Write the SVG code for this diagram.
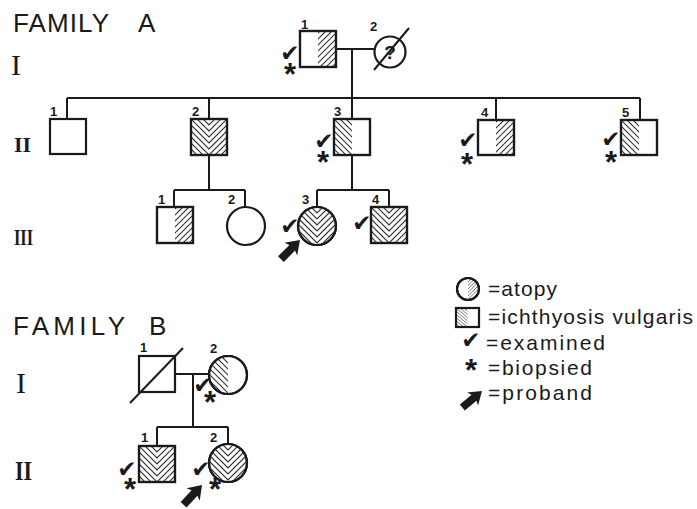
<svg xmlns="http://www.w3.org/2000/svg" xmlns:xlink="http://www.w3.org/1999/xlink" width="697" height="509" viewBox="0 0 697 509">
<style>
.sym{fill:#fff;stroke:#1a1a1a;stroke-width:2.2}
.ln{stroke:#1a1a1a;stroke-width:2;fill:none}
.h{stroke:#333;stroke-width:1.1;fill:none}
.lab{font-family:"Liberation Sans",Arial,sans-serif;font-weight:bold;font-size:13px;fill:#1a1a1a}
.chk{font-family:"DejaVu Sans",sans-serif;font-size:23px;fill:#1a1a1a;text-anchor:middle}
.ast{font-family:"Liberation Sans",Arial,sans-serif;font-weight:bold;font-size:31px;fill:#1a1a1a;text-anchor:middle}
.fam{font-family:"Liberation Sans",Arial,sans-serif;font-size:26px;fill:#1a1a1a}
.rom{font-family:"Liberation Serif","Times New Roman",serif;fill:#1a1a1a}
.leg{font-family:"Liberation Sans",Arial,sans-serif;font-size:21px;fill:#1a1a1a}
.arr{fill:#1a1a1a}
</style>
<defs>
<clipPath id="cSq"><rect x="0" y="0" width="36" height="36"/></clipPath>
<clipPath id="cCi"><circle cx="19" cy="19" r="19"/></clipPath>
<clipPath id="cSqL"><rect x="0" y="0" width="18" height="36"/></clipPath>
<clipPath id="cSqR"><rect x="18" y="0" width="18" height="36"/></clipPath>
<clipPath id="cCiL"><path d="M19,0 A19,19 0 0 0 19,38 Z"/></clipPath>
<clipPath id="cCiR"><path d="M19,0 A19,19 0 0 1 19,38 Z"/></clipPath>
<path id="chevP" d="M0,-12 L18,6 L36,-12 M0,-6 L18,12 L36,-6 M0,0 L18,18 L36,0 M0,6 L18,24 L36,6 M0,12 L18,30 L36,12 M0,18 L18,36 L36,18 M0,24 L18,42 L36,24 M0,30 L18,48 L36,30 M0,36 L18,54 L36,36"/>
<path id="bsP" d="M-36,0 L2,38 M-30,0 L8,38 M-24,0 L14,38 M-18,0 L20,38 M-12,0 L26,38 M-6,0 L32,38 M0,0 L38,38 M6,0 L44,38 M12,0 L50,38 M18,0 L56,38"/>
<path id="fsP" d="M-36,38 L2,0 M-30,38 L8,0 M-24,38 L14,0 M-18,38 L20,0 M-12,38 L26,0 M-6,38 L32,0 M0,38 L38,0 M6,38 L44,0 M12,38 L50,0 M18,38 L56,0 M24,38 L62,0 M30,38 L68,0"/>
<g id="chevSq" clip-path="url(#cSq)"><use xlink:href="#chevP" class="h"/></g>
<g id="chevCi" clip-path="url(#cCi)"><use xlink:href="#chevP" class="h" transform="translate(1,0)"/></g>
<g id="leftSq" clip-path="url(#cSqL)"><use xlink:href="#bsP" class="h"/></g>
<g id="rightSq" clip-path="url(#cSqR)"><use xlink:href="#fsP" class="h"/></g>
<g id="leftCi" clip-path="url(#cCiL)"><use xlink:href="#bsP" class="h"/></g>
<g id="rightCi" clip-path="url(#cCiR)"><use xlink:href="#fsP" class="h"/></g>
<path id="arrow" d="M0,0 L-13,-9 L-11,-4 L-27,-4 L-27,4 L-11,4 L-13,9 Z"/>
</defs>

<!-- Titles and generation numerals -->
<text class="fam" x="13" y="32" textLength="96" lengthAdjust="spacing">FAMILY</text>
<text class="fam" x="138" y="32">A</text>
<text class="rom" x="11" y="75" font-size="30">I</text>
<text class="rom" x="14" y="152" font-size="22" font-weight="bold" textLength="17" lengthAdjust="spacingAndGlyphs">II</text>
<text class="rom" x="14" y="245" font-size="24" font-weight="bold" textLength="19" lengthAdjust="spacingAndGlyphs">III</text>
<text class="fam" x="13" y="335" textLength="112" lengthAdjust="spacing">FAMILY</text>
<text class="fam" x="149" y="335">B</text>
<text class="rom" x="16" y="393" font-size="30">I</text>
<text class="rom" x="15" y="480" font-size="28" font-weight="bold" textLength="17" lengthAdjust="spacingAndGlyphs">II</text>

<!-- Connectors -->
<g id="connectors">
<path class="ln" d="M336,49 H375 M352,49 V98 M67,98 H640 M67,98 V119 M209,98 V119 M352,98 V119 M496,98 V120 M640,98 V120"/>
<path class="ln" d="M209,155 V190 M174,190 H245 M174,190 V207 M245,190 V207"/>
<path class="ln" d="M352,155 V190 M317,190 H389 M317,190 V207 M389,190 V207"/>
<path class="ln" d="M175,374 H209 M193,374 V427 M157,427 H228 M157,427 V446 M228,427 V444"/>
</g>

<!-- Family A gen I -->
<g id="A-I-1">
<rect class="sym" x="300" y="31" width="36" height="36"/>
<use xlink:href="#rightSq" x="300" y="31"/>
<rect x="300" y="31" width="36" height="36" fill="none" stroke="#1a1a1a" stroke-width="2.2"/>
<text class="lab" x="301" y="29">1</text>
<text class="chk" x="290" y="61">✔</text>
<text class="ast" x="290" y="85">*</text>
</g>
<g id="A-I-2">
<circle class="sym" cx="390" cy="52" r="15.5"/>
<text x="390" y="59" text-anchor="middle" font-family="Liberation Sans,Arial,sans-serif" font-weight="bold" font-size="19" fill="#1a1a1a">?</text>
<path class="ln" d="M374,70 L409,28"/>
<text class="lab" x="370" y="31">2</text>
</g>

<!-- Family A gen II -->
<g id="A-II-1">
<rect class="sym" x="50" y="119" width="36" height="35"/>
<text class="lab" x="50" y="116">1</text>
</g>
<g id="A-II-2">
<rect class="sym" x="191" y="119" width="36" height="36"/>
<use xlink:href="#chevSq" x="191" y="119"/>
<rect x="191" y="119" width="36" height="36" fill="none" stroke="#1a1a1a" stroke-width="2.2"/>
<text class="lab" x="192" y="116">2</text>
</g>
<g id="A-II-3">
<rect class="sym" x="334" y="119" width="36" height="36"/>
<use xlink:href="#leftSq" x="334" y="119"/>
<rect x="334" y="119" width="36" height="36" fill="none" stroke="#1a1a1a" stroke-width="2.2"/>
<text class="lab" x="334" y="116">3</text>
<text class="chk" x="324" y="149">✔</text>
<text class="ast" x="323" y="173">*</text>
</g>
<g id="A-II-4">
<rect class="sym" x="478" y="120" width="36" height="35"/>
<use xlink:href="#rightSq" x="478" y="120"/>
<rect x="478" y="120" width="36" height="35" fill="none" stroke="#1a1a1a" stroke-width="2.2"/>
<text class="lab" x="481" y="117">4</text>
<text class="chk" x="468" y="148">✔</text>
<text class="ast" x="467" y="175">*</text>
</g>
<g id="A-II-5">
<rect class="sym" x="621" y="120" width="36" height="35"/>
<use xlink:href="#leftSq" x="621" y="120"/>
<rect x="621" y="120" width="36" height="35" fill="none" stroke="#1a1a1a" stroke-width="2.2"/>
<text class="lab" x="622" y="117">5</text>
<text class="chk" x="611" y="147">✔</text>
<text class="ast" x="611" y="173">*</text>
</g>

<!-- Family A gen III -->
<g id="A-III-1">
<rect class="sym" x="157" y="207" width="36" height="36"/>
<use xlink:href="#rightSq" x="157" y="207"/>
<rect x="157" y="207" width="36" height="36" fill="none" stroke="#1a1a1a" stroke-width="2.2"/>
<text class="lab" x="158" y="204">1</text>
</g>
<g id="A-III-2">
<circle class="sym" cx="246" cy="226" r="19"/>
<text class="lab" x="228" y="204">2</text>
</g>
<g id="A-III-3">
<circle class="sym" cx="317" cy="226" r="19"/>
<use xlink:href="#chevCi" x="298" y="207"/>
<circle cx="317" cy="226" r="19" fill="none" stroke="#1a1a1a" stroke-width="2.2"/>
<text class="lab" x="302" y="204">3</text>
<text class="chk" x="290" y="234">✔</text>
<use xlink:href="#arrow" class="arr" transform="translate(300,240) rotate(-45)"/>
</g>
<g id="A-III-4">
<rect class="sym" x="371" y="207" width="36" height="36"/>
<use xlink:href="#chevSq" x="371" y="207"/>
<rect x="371" y="207" width="36" height="36" fill="none" stroke="#1a1a1a" stroke-width="2.2"/>
<text class="lab" x="372" y="204">4</text>
<text class="chk" x="362" y="231">✔</text>
</g>

<!-- Legend -->
<g id="legend">
<circle class="sym" cx="468" cy="289" r="11"/>
<g transform="translate(468,289) scale(0.58) translate(-19,-19)"><use xlink:href="#rightCi"/></g>
<circle cx="468" cy="289" r="11" fill="none" stroke="#1a1a1a" stroke-width="2"/>
<text class="leg" x="488" y="296" textLength="69" lengthAdjust="spacing">=atopy</text>
<rect class="sym" x="456" y="308" width="23" height="19"/>
<g transform="translate(456,308) scale(0.64,0.53)"><use xlink:href="#leftSq"/></g>
<rect x="456" y="308" width="23" height="19" fill="none" stroke="#1a1a1a" stroke-width="2"/>
<text class="leg" x="488" y="324" textLength="205" lengthAdjust="spacing">=ichthyosis vulgaris</text>
<text class="chk" x="471" y="348">✔</text>
<text class="leg" x="486" y="350" textLength="119" lengthAdjust="spacing">=examined</text>
<text class="ast" x="471" y="381">*</text>
<text class="leg" x="488" y="375" textLength="104" lengthAdjust="spacing">=biopsied</text>
<use xlink:href="#arrow" class="arr" transform="translate(482,391) rotate(-40) scale(0.95)"/>
<text class="leg" x="488" y="400" textLength="104" lengthAdjust="spacing">=proband</text>
</g>

<!-- Family B gen I -->
<g id="B-I-1">
<rect class="sym" x="139" y="356" width="36" height="36"/>
<path class="ln" d="M130,403 L183,348"/>
<text class="lab" x="140" y="352">1</text>
</g>
<g id="B-I-2">
<circle class="sym" cx="228" cy="375" r="19"/>
<use xlink:href="#leftCi" x="209" y="356"/>
<circle cx="228" cy="375" r="19" fill="none" stroke="#1a1a1a" stroke-width="2.2"/>
<text class="lab" x="210" y="353">2</text>
<text class="chk" x="203" y="393">✔</text>
<text class="ast" x="210" y="413">*</text>
</g>

<!-- Family B gen II -->
<g id="B-II-1">
<rect class="sym" x="139" y="446" width="36" height="36"/>
<use xlink:href="#chevSq" x="139" y="446"/>
<rect x="139" y="446" width="36" height="36" fill="none" stroke="#1a1a1a" stroke-width="2.2"/>
<text class="lab" x="141" y="442">1</text>
<text class="chk" x="127" y="477">✔</text>
<text class="ast" x="130" y="500">*</text>
</g>
<g id="B-II-2">
<circle class="sym" cx="228" cy="463" r="19"/>
<use xlink:href="#chevCi" x="209" y="444"/>
<circle cx="228" cy="463" r="19" fill="none" stroke="#1a1a1a" stroke-width="2.2"/>
<text class="lab" x="210" y="442">2</text>
<text class="chk" x="201" y="477">✔</text>
<text class="ast" x="215" y="500">*</text>
<use xlink:href="#arrow" class="arr" transform="translate(202,485) rotate(-47)"/>
</g>
</svg>
